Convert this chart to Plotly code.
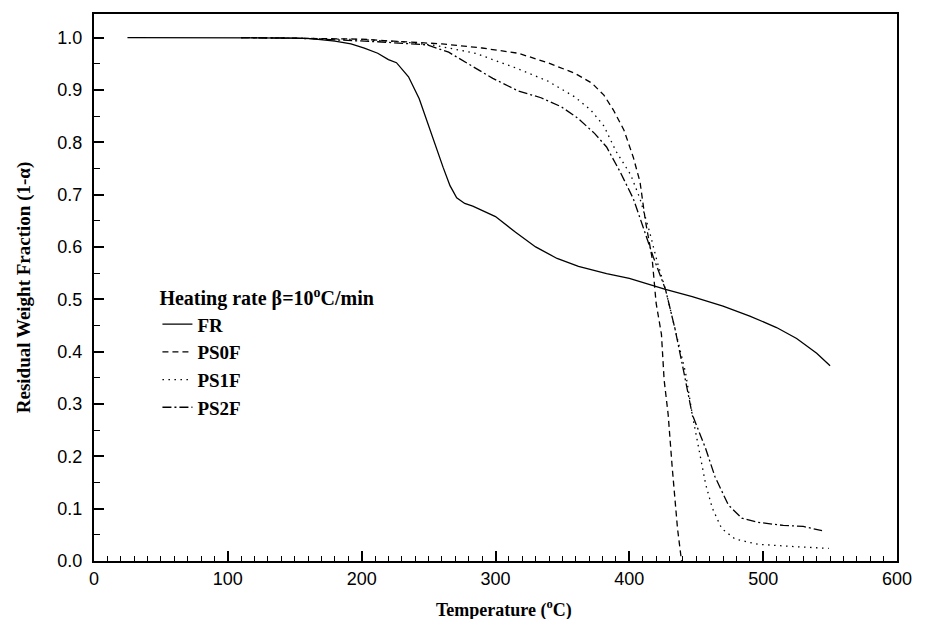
import plotly.graph_objects as go

# ---- data (temperature in °C, residual weight fraction) ----
FR_T = [25, 60, 100, 150, 162, 180, 192, 202, 212, 220, 226, 235, 243, 251, 256, 261, 266, 271, 277, 283,
        300, 315, 330, 346, 362, 383, 400, 427, 447, 470, 490, 510, 525, 540, 550]
FR_V = [1.0, 1.0, 1.0, 0.999, 0.998, 0.993, 0.988, 0.98, 0.970, 0.958, 0.952, 0.925, 0.883, 0.823, 0.785,
        0.751, 0.717, 0.694, 0.683, 0.678, 0.658, 0.628, 0.600, 0.578, 0.563, 0.549, 0.540, 0.519, 0.505,
        0.487, 0.468, 0.446, 0.425, 0.397, 0.373]

PS0F_T = [110, 150, 200, 224, 260, 290, 317, 339, 359, 372, 381, 388, 396, 403, 408, 412, 417, 420, 424,
          426, 429, 432, 436, 439]
PS0F_V = [1.0, 0.999, 0.997, 0.993, 0.988, 0.980, 0.970, 0.952, 0.932, 0.913, 0.890, 0.862, 0.823, 0.771,
          0.724, 0.650, 0.579, 0.493, 0.433, 0.346, 0.280, 0.180, 0.062, 0.0]

PS1F_T = [110, 150, 200, 230, 255, 285, 315, 339, 359, 371, 381, 390, 401, 408, 415, 421, 427, 434, 442,
          447, 452, 457, 462, 469, 479, 496, 520, 549]
PS1F_V = [1.0, 0.999, 0.996, 0.992, 0.985, 0.970, 0.942, 0.917, 0.887, 0.862, 0.831, 0.783, 0.738, 0.692,
          0.630, 0.570, 0.519, 0.445, 0.360, 0.280, 0.215, 0.147, 0.101, 0.062, 0.042, 0.032, 0.028, 0.024]

PS2F_T = [110, 150, 212, 249, 265, 278, 298, 317, 334, 349, 361, 374, 383, 393, 403, 410, 418, 427, 434,
          440, 447, 457, 464, 474, 484, 496, 515, 530, 544]
PS2F_V = [1.0, 0.999, 0.992, 0.986, 0.972, 0.952, 0.922, 0.898, 0.885, 0.868, 0.847, 0.817, 0.791, 0.744,
          0.692, 0.640, 0.580, 0.519, 0.445, 0.370, 0.280, 0.215, 0.161, 0.107, 0.082, 0.074, 0.068, 0.066,
          0.058]

SERIES = [
    ("FR", FR_T, FR_V, "solid"),
    ("PS0F", PS0F_T, PS0F_V, "6px,4px"),
    ("PS1F", PS1F_T, PS1F_V, "1.5px,4.5px"),
    ("PS2F", PS2F_T, PS2F_V, "9px,3px,2px,3px"),
]

fig = go.Figure()
for name, t, v, dash in SERIES:
    fig.add_trace(go.Scatter(x=t, y=v, mode="lines", name=name,
                             line=dict(color="black", width=1.3, dash=dash)))

serif = "Liberation Serif, Times New Roman, serif"
sans = "Liberation Sans, Arial, sans-serif"

axis_common = dict(
    showline=True, linecolor="black", linewidth=2, mirror=True,
    ticks="inside", tickcolor="black", tickwidth=1.5,
    showgrid=False, zeroline=False,
    tickfont=dict(family=sans, size=18, color="black"),
)

fig.update_xaxes(range=[0, 600], dtick=100, tick0=0, ticklen=10,
                 minor=dict(dtick=10, ticks="inside", ticklen=5, tickcolor="black", tickwidth=1.2),
                 **axis_common)
fig.update_yaxes(range=[0, 1.045], dtick=0.1, tick0=0, ticklen=10, tickformat=".1f",
                 ticklabelstandoff=6,
                 minor=dict(dtick=0.05, ticks="inside", ticklen=6, tickcolor="black", tickwidth=1.2),
                 title=dict(text="<b>Residual Weight Fraction (1-α)</b>",
                            font=dict(family=serif, size=19, color="black"), standoff=22),
                 **axis_common)

fig.add_annotation(text="<b>Temperature (<sup>o</sup>C)</b>", xref="paper", yref="paper",
                   x=0.51, y=0, xanchor="center", yanchor="bottom", yshift=-62, showarrow=False,
                   font=dict(family=serif, size=18, color="black"))

fig.update_layout(
    width=927, height=619,
    margin=dict(l=86, r=38, t=4, b=66),
    paper_bgcolor="white", plot_bgcolor="white",
    showlegend=True,
    legend=dict(
        x=0.079, y=0.515, xanchor="left", yanchor="top",
        bgcolor="rgba(0,0,0,0)",
        title=dict(text="<b>Heating rate β=10<sup>o</sup>C/min</b>",
                   font=dict(family=serif, size=20, color="black")),
        font=dict(family=serif, size=19, color="black", weight="bold"),
        itemwidth=30, tracegroupgap=0,
    ),
)

fig.write_html("out.html")
